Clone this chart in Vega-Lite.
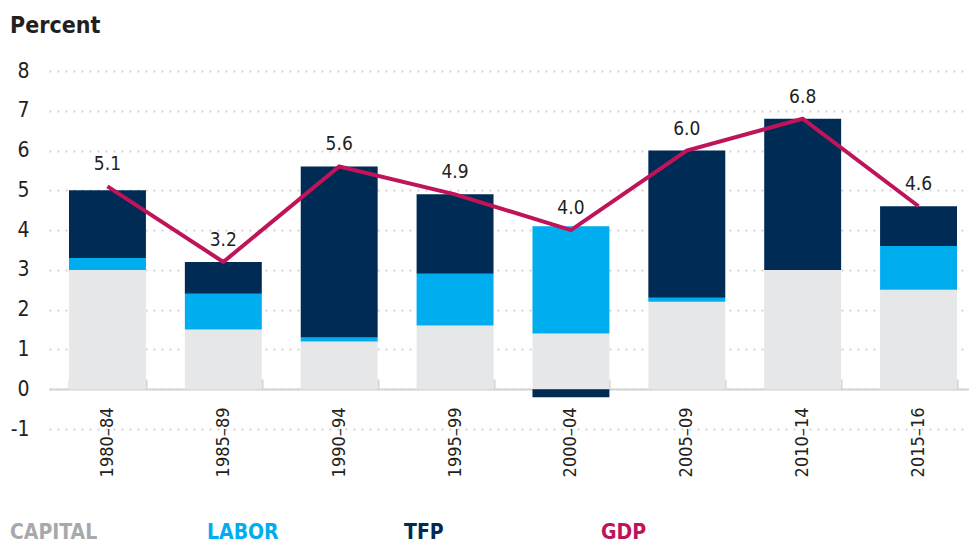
{
  "$schema": "https://vega.github.io/schema/vega-lite/v6.json",
  "width": 920,
  "height": 358,
  "autosize": {"type": "none"},
  "padding": {"left": 49, "top": 71, "right": 0, "bottom": 116},
  "background": "white",
  "title": {"text": "Percent", "anchor": "start", "frame": "group", "dx": -39, "offset": 22, "fontSize": 23, "fontWeight": "bold", "color": "#231f20"},
  "config": {
    "font": "'DejaVu Sans Condensed', Roboto, sans-serif",
    "view": {"stroke": null}
  },
  "datasets": {
    "bars": [
      {"period": "1980–84", "component": "CAPITAL", "value": 3.0},
      {"period": "1980–84", "component": "LABOR", "value": 0.3},
      {"period": "1980–84", "component": "TFP", "value": 1.7},
      {"period": "1985–89", "component": "CAPITAL", "value": 1.5},
      {"period": "1985–89", "component": "LABOR", "value": 0.9},
      {"period": "1985–89", "component": "TFP", "value": 0.8},
      {"period": "1990–94", "component": "CAPITAL", "value": 1.2},
      {"period": "1990–94", "component": "LABOR", "value": 0.1},
      {"period": "1990–94", "component": "TFP", "value": 4.3},
      {"period": "1995–99", "component": "CAPITAL", "value": 1.6},
      {"period": "1995–99", "component": "LABOR", "value": 1.3},
      {"period": "1995–99", "component": "TFP", "value": 2.0},
      {"period": "2000–04", "component": "CAPITAL", "value": 1.4},
      {"period": "2000–04", "component": "LABOR", "value": 2.7},
      {"period": "2000–04", "component": "TFP", "value": -0.2},
      {"period": "2005–09", "component": "CAPITAL", "value": 2.2},
      {"period": "2005–09", "component": "LABOR", "value": 0.1},
      {"period": "2005–09", "component": "TFP", "value": 3.7},
      {"period": "2010–14", "component": "CAPITAL", "value": 3.0},
      {"period": "2010–14", "component": "LABOR", "value": 0.0},
      {"period": "2010–14", "component": "TFP", "value": 3.8},
      {"period": "2015–16", "component": "CAPITAL", "value": 2.5},
      {"period": "2015–16", "component": "LABOR", "value": 1.1},
      {"period": "2015–16", "component": "TFP", "value": 1.0}
    ],
    "gdp": [
      {"period": "1980–84", "gdp": 5.1},
      {"period": "1985–89", "gdp": 3.2},
      {"period": "1990–94", "gdp": 5.6},
      {"period": "1995–99", "gdp": 4.9},
      {"period": "2000–04", "gdp": 4.0},
      {"period": "2005–09", "gdp": 6.0},
      {"period": "2010–14", "gdp": 6.8},
      {"period": "2015–16", "gdp": 4.6}
    ]
  },
  "encoding": {
    "x": {
      "field": "period",
      "type": "nominal",
      "sort": null,
      "scale": {"paddingInner": 0.336, "paddingOuter": 0.138, "align": 0.625},
      "axis": {
        "title": null,
        "labelAngle": -90,
        "offset": -40,
        "tickBand": "extent",
        "tickSize": -10,
        "tickColor": "#d3d3d3",
        "tickWidth": 2,
        "domainColor": "#d3d3d3",
        "domainWidth": 2,
        "labelFontSize": 18,
        "labelPadding": 28,
        "labelColor": "#231f20",
        "grid": false
      }
    }
  },
  "layer": [
    {
      "data": {"name": "bars"},
      "mark": {"type": "bar"},
      "encoding": {
        "y": {
          "field": "value",
          "type": "quantitative",
          "stack": "zero",
          "scale": {"domain": [-1, 8], "nice": false},
          "axis": {
            "title": null,
            "values": [-1, 0, 1, 2, 3, 4, 5, 6, 7, 8],
            "labelExpr": "'' + datum.value",
            "labelOverlap": false,
            "domain": false,
            "ticks": false,
            "labelPadding": 20,
            "labelFontSize": 21,
            "labelColor": "#231f20",
            "gridDash": [2, 6],
            "gridColor": "#d4d4d4",
            "gridWidth": 2
          }
        },
        "order": {"field": "component", "sort": "ascending"},
        "color": {
          "field": "component",
          "type": "nominal",
          "scale": {
            "domain": ["CAPITAL", "LABOR", "TFP", "GDP"],
            "range": ["#e6e7e8", "#00adef", "#002b54", "#c0145a"]
          },
          "legend": {
            "orient": "none",
            "legendX": -60,
            "legendY": 451,
            "direction": "horizontal",
            "columns": 4,
            "gridAlign": "all",
            "columnPadding": 88,
            "title": null,
            "symbolSize": 0,
            "symbolOpacity": 0,
            "symbolStrokeWidth": 0,
            "labelOffset": 0,
            "labelFontSize": 21,
            "labelFontWeight": "bold",
            "encode": {
              "labels": {
                "update": {
                  "fill": {"signal": "datum.value === 'CAPITAL' ? '#a7a9ac' : datum.value === 'LABOR' ? '#00adef' : datum.value === 'TFP' ? '#002b54' : '#c0145a'"}
                }
              }
            }
          }
        }
      }
    },
    {
      "data": {"name": "gdp"},
      "mark": {"type": "line", "strokeWidth": 4},
      "encoding": {
        "y": {
          "field": "gdp",
          "type": "quantitative",
          "axis": {
            "title": null,
            "values": [-1, 0, 1, 2, 3, 4, 5, 6, 7, 8],
            "labelExpr": "'' + datum.value",
            "labelOverlap": false,
            "domain": false,
            "ticks": false,
            "labelPadding": 20,
            "labelFontSize": 21,
            "labelColor": "#231f20",
            "gridDash": [2, 6],
            "gridColor": "#d4d4d4",
            "gridWidth": 2
          }
        },
        "color": {"datum": "GDP"}
      }
    },
    {
      "data": {"name": "gdp"},
      "mark": {"type": "text", "baseline": "bottom", "dy": -12, "fontSize": 19, "color": "#231f20"},
      "encoding": {
        "y": {
          "field": "gdp",
          "type": "quantitative",
          "axis": {
            "title": null,
            "values": [-1, 0, 1, 2, 3, 4, 5, 6, 7, 8],
            "labelExpr": "'' + datum.value",
            "labelOverlap": false,
            "domain": false,
            "ticks": false,
            "labelPadding": 20,
            "labelFontSize": 21,
            "labelColor": "#231f20",
            "gridDash": [2, 6],
            "gridColor": "#d4d4d4",
            "gridWidth": 2
          }
        },
        "text": {"field": "gdp", "type": "quantitative", "format": ".1f"}
      }
    }
  ]
}
